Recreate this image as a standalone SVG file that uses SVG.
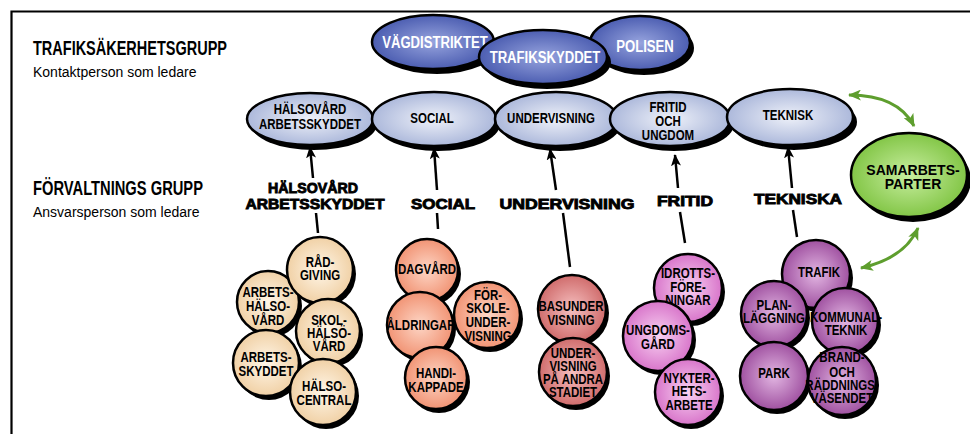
<svg xmlns="http://www.w3.org/2000/svg" width="970" height="434" viewBox="0 0 970 434">
<style>
.sh{fill:#000}
.ol{stroke:#000;stroke-width:2.5}
.tw{font-family:"Liberation Sans",sans-serif;font-weight:bold;font-size:16px;fill:#fff;text-anchor:middle}
.tb{font-family:"Liberation Sans",sans-serif;font-weight:bold;font-size:14px;fill:#000;text-anchor:middle}
.tg{font-family:"Liberation Sans",sans-serif;font-weight:bold;font-size:14px;fill:#000;text-anchor:middle}
.lab{font-family:"Liberation Sans",sans-serif;font-weight:bold;font-size:15px;fill:#000;stroke:#000;stroke-width:0.9;text-anchor:middle}
.h1{font-family:"Liberation Sans",sans-serif;font-weight:bold;font-size:20px;fill:#000}
.h2{font-family:"Liberation Sans",sans-serif;font-size:14px;fill:#000}
.conn{stroke:#000;stroke-width:2.5;fill:none}
.grn{stroke:#5e9e2e;stroke-width:3;fill:none}
</style>
<defs>
<radialGradient id="gBlue" cx="50%" cy="50%" r="55%"><stop offset="0" stop-color="#97a4de"/><stop offset="1" stop-color="#4557ad"/></radialGradient>
<radialGradient id="gLb" cx="50%" cy="50%" r="55%"><stop offset="0" stop-color="#eef1f9"/><stop offset="1" stop-color="#a6b3d8"/></radialGradient>
<radialGradient id="gGr" cx="50%" cy="50%" r="55%"><stop offset="0" stop-color="#c8eea0"/><stop offset="1" stop-color="#7cc23e"/></radialGradient>
<radialGradient id="gBe" cx="50%" cy="50%" r="55%"><stop offset="0" stop-color="#fff6e8"/><stop offset="1" stop-color="#efcd9f"/></radialGradient>
<radialGradient id="gSa" cx="50%" cy="50%" r="55%"><stop offset="0" stop-color="#fdd6c6"/><stop offset="1" stop-color="#f08d6c"/></radialGradient>
<radialGradient id="gRo" cx="50%" cy="50%" r="55%"><stop offset="0" stop-color="#f6c0c0"/><stop offset="1" stop-color="#cc6464"/></radialGradient>
<radialGradient id="gPi" cx="50%" cy="50%" r="55%"><stop offset="0" stop-color="#f8d2f2"/><stop offset="1" stop-color="#d56cc6"/></radialGradient>
<radialGradient id="gPu" cx="50%" cy="50%" r="55%"><stop offset="0" stop-color="#e2b6e2"/><stop offset="1" stop-color="#99479a"/></radialGradient>
<marker id="ah" viewBox="0 0 12 10" refX="11" refY="5" markerWidth="12" markerHeight="10" markerUnits="userSpaceOnUse" orient="auto"><path d="M0,0 L12,5 L0,10 L3,5 z" fill="#000"/></marker>
<marker id="ag" viewBox="0 0 12 10" refX="11" refY="5" markerWidth="13" markerHeight="11" markerUnits="userSpaceOnUse" orient="auto-start-reverse"><path d="M0,0 L12,5 L0,10 L3,5 z" fill="#5e9e2e"/></marker>
</defs>
<rect width="970" height="434" fill="#fff"/>
<g id="frame"><path d="M11.5,434 L11.5,11.5 L970,11.5" fill="none" stroke="#000" stroke-width="2.2"/></g>
<g id="headings">
<text class="h1" x="33" y="55" textLength="194" lengthAdjust="spacingAndGlyphs">TRAFIKSÄKERHETSGRUPP</text>
<text class="h2" x="33" y="77">Kontaktperson som ledare</text>
<text class="h1" x="33" y="195" textLength="170" lengthAdjust="spacingAndGlyphs">FÖRVALTNINGS GRUPP</text>
<text class="h2" x="33" y="217">Ansvarsperson som ledare</text>
</g>
<g id="n-vagdistriktet"><ellipse class="sh" cx="437" cy="47" rx="61" ry="27"/><ellipse class="ol" cx="433" cy="42" rx="61" ry="27" fill="url(#gBlue)"/><text class="tw" transform="translate(435 0) scale(.82 1)" x="0" y="48">VÄGDISTRIKTET</text></g>
<g id="n-polisen"><ellipse class="sh" cx="644" cy="48" rx="50" ry="27"/><ellipse class="ol" cx="640" cy="43" rx="50" ry="27" fill="url(#gBlue)"/><text class="tw" transform="translate(645 0) scale(.82 1)" x="0" y="52">POLISEN</text></g>
<g id="n-trafikskyddet"><ellipse class="sh" cx="547" cy="62" rx="64" ry="27"/><ellipse class="ol" cx="543" cy="57" rx="64" ry="27" fill="url(#gBlue)"/><text class="tw" transform="translate(545 0) scale(.82 1)" x="0" y="63">TRAFIKSKYDDET</text></g>
<g id="n-halsovard"><ellipse class="sh" cx="314" cy="124" rx="63" ry="26"/><ellipse class="ol" cx="310" cy="119" rx="63" ry="26" fill="url(#gLb)"/><text class="tb" transform="translate(310 0) scale(.82 1)"><tspan x="0" y="114">HÄLSOVÅRD</tspan><tspan x="0" y="129">ARBETSSKYDDET</tspan></text></g>
<g id="n-social"><ellipse class="sh" cx="438" cy="124" rx="62" ry="27"/><ellipse class="ol" cx="434" cy="119" rx="62" ry="27" fill="url(#gLb)"/><text class="tb" transform="translate(432 0) scale(.82 1)" x="0" y="123">SOCIAL</text></g>
<g id="n-undervisning"><ellipse class="sh" cx="560" cy="124" rx="61" ry="27"/><ellipse class="ol" cx="556" cy="119" rx="61" ry="27" fill="url(#gLb)"/><text class="tb" transform="translate(551 0) scale(.82 1)" x="0" y="123">UNDERVISNING</text></g>
<g id="n-fritid"><ellipse class="sh" cx="674" cy="124" rx="60" ry="27"/><ellipse class="ol" cx="670" cy="119" rx="60" ry="27" fill="url(#gLb)"/><text class="tb" transform="translate(668 0) scale(.82 1)"><tspan x="0" y="112">FRITID</tspan><tspan x="0" y="126">OCH</tspan><tspan x="0" y="140">UNGDOM</tspan></text></g>
<g id="n-teknisk"><ellipse class="sh" cx="794" cy="122" rx="63" ry="28"/><ellipse class="ol" cx="790" cy="117" rx="63" ry="28" fill="url(#gLb)"/><text class="tb" transform="translate(788 0) scale(.82 1)" x="0" y="120">TEKNISK</text></g>
<g id="n-samarbetsparter"><ellipse class="sh" cx="913" cy="180" rx="58" ry="42"/><ellipse class="ol" cx="909" cy="175" rx="58" ry="42" fill="url(#gGr)"/><text class="tg"><tspan x="913" y="175">SAMARBETS-</tspan><tspan x="913" y="189">PARTER</tspan></text></g>
<g id="labels">
<text class="lab" x="313" y="193" textLength="90" lengthAdjust="spacingAndGlyphs">HÄLSOVÅRD</text>
<text class="lab" x="315" y="209" textLength="139" lengthAdjust="spacingAndGlyphs">ARBETSSKYDDET</text>
<text class="lab" x="443" y="209" textLength="64" lengthAdjust="spacingAndGlyphs">SOCIAL</text>
<text class="lab" x="567" y="209" textLength="135" lengthAdjust="spacingAndGlyphs">UNDERVISNING</text>
<text class="lab" x="685" y="206" textLength="56" lengthAdjust="spacingAndGlyphs">FRITID</text>
<text class="lab" x="798" y="204" textLength="88" lengthAdjust="spacingAndGlyphs">TEKNISKA</text>
</g>
<g id="connectors">
<path class="conn" d="M313,178 L310,147" marker-end="url(#ah)"/>
<path class="conn" d="M437,190 L434,148" marker-end="url(#ah)"/>
<path class="conn" d="M556,190 L550,149" marker-end="url(#ah)"/>
<path class="conn" d="M678,188 L675,155" marker-end="url(#ah)"/>
<path class="conn" d="M792,188 L788,147" marker-end="url(#ah)"/>
<path class="conn" d="M316,213 L318,233"/>
<path class="conn" d="M437,213 L438,229"/>
<path class="conn" d="M563,213 L570,267"/>
<path class="conn" d="M680,212 L685,243"/>
<path class="conn" d="M793,210 L797,237"/>
<path class="grn" d="M849,95 Q898,95 914,126" marker-start="url(#ag)" marker-end="url(#ag)"/>
<path class="grn" d="M861,268 Q905,258 918,228" marker-start="url(#ag)" marker-end="url(#ag)"/>
</g>
<g id="n-arbetshalsovard"><circle class="sh" cx="271" cy="306" r="31"/><circle class="ol" cx="268" cy="302" r="31" fill="url(#gBe)"/><text class="tb" transform="translate(268 0) scale(.82 1)"><tspan x="0" y="297">ARBETS-</tspan><tspan x="0" y="311">HÄLSO-</tspan><tspan x="0" y="325">VÅRD</tspan></text></g>
<g id="n-radgiving"><circle class="sh" cx="323" cy="274" r="33"/><circle class="ol" cx="320" cy="270" r="33" fill="url(#gBe)"/><text class="tb" transform="translate(320 0) scale(.82 1)"><tspan x="0" y="267">RÅD-</tspan><tspan x="0" y="280">GIVING</tspan></text></g>
<g id="n-skolhalsovard"><circle class="sh" cx="331" cy="335" r="32"/><circle class="ol" cx="328" cy="331" r="32" fill="url(#gBe)"/><text class="tb" transform="translate(329 0) scale(.82 1)"><tspan x="0" y="325">SKOL-</tspan><tspan x="0" y="338">HÄLSÖ-</tspan><tspan x="0" y="351">VÅRD</tspan></text></g>
<g id="n-arbetsskyddet"><circle class="sh" cx="269" cy="367" r="33"/><circle class="ol" cx="266" cy="363" r="33" fill="url(#gBe)"/><text class="tb" transform="translate(266 0) scale(.82 1)"><tspan x="0" y="362">ARBETS-</tspan><tspan x="0" y="376">SKYDDET</tspan></text></g>
<g id="n-halsocentral"><circle class="sh" cx="326" cy="396" r="33"/><circle class="ol" cx="323" cy="392" r="33" fill="url(#gBe)"/><text class="tb" transform="translate(324 0) scale(.82 1)"><tspan x="0" y="391">HÄLSO-</tspan><tspan x="0" y="405">CENTRAL</tspan></text></g>
<g id="n-dagvard"><circle class="sh" cx="430" cy="274" r="31"/><circle class="ol" cx="427" cy="270" r="31" fill="url(#gSa)"/><text class="tb" transform="translate(427 0) scale(.82 1)" x="0" y="274">DAGVÅRD</text></g>
<g id="n-forskole"><circle class="sh" cx="490" cy="319" r="33"/><circle class="ol" cx="487" cy="315" r="33" fill="url(#gSa)"/><text class="tb" transform="translate(488 0) scale(.82 1)"><tspan x="0" y="300">FÖR-</tspan><tspan x="0" y="313">SKOLE-</tspan><tspan x="0" y="327">UNDER-</tspan><tspan x="0" y="341">VISNING</tspan></text></g>
<g id="n-aldringar"><circle class="sh" cx="423" cy="329" r="33"/><circle class="ol" cx="420" cy="325" r="33" fill="url(#gSa)"/><text class="tb" transform="translate(421 0) scale(.82 1)" x="0" y="330">ÅLDRINGAR</text></g>
<g id="n-handikappade"><circle class="sh" cx="439" cy="382" r="31"/><circle class="ol" cx="436" cy="378" r="31" fill="url(#gSa)"/><text class="tb" transform="translate(436 0) scale(.82 1)"><tspan x="0" y="378">HANDI-</tspan><tspan x="0" y="392">KAPPADE</tspan></text></g>
<g id="n-basundervisning"><circle class="sh" cx="575" cy="313" r="34"/><circle class="ol" cx="572" cy="309" r="34" fill="url(#gRo)"/><text class="tb" transform="translate(571 0) scale(.82 1)"><tspan x="0" y="311">BASUNDER</tspan><tspan x="0" y="325">VISNING</tspan></text></g>
<g id="n-undervisningandra"><circle class="sh" cx="576" cy="376" r="34"/><circle class="ol" cx="573" cy="372" r="34" fill="url(#gRo)"/><text class="tb" transform="translate(573 0) scale(.82 1)"><tspan x="0" y="358">UNDER-</tspan><tspan x="0" y="371">VISNING</tspan><tspan x="0" y="384">PÅ ANDRA</tspan><tspan x="0" y="397">STADIET</tspan></text></g>
<g id="n-idrottsforeningar"><circle class="sh" cx="691" cy="292" r="34"/><circle class="ol" cx="688" cy="288" r="34" fill="url(#gPi)"/><text class="tb" transform="translate(688 0) scale(.82 1)"><tspan x="0" y="278">IDROTTS-</tspan><tspan x="0" y="292">FÖRE-</tspan><tspan x="0" y="305">NINGAR</tspan></text></g>
<g id="n-ungdomsgard"><circle class="sh" cx="661" cy="340" r="35"/><circle class="ol" cx="658" cy="336" r="35" fill="url(#gPi)"/><text class="tb" transform="translate(658 0) scale(.82 1)"><tspan x="0" y="335">UNGDOMS-</tspan><tspan x="0" y="349">GÅRD</tspan></text></g>
<g id="n-nykterhetsarbete"><circle class="sh" cx="691" cy="396" r="33"/><circle class="ol" cx="688" cy="392" r="33" fill="url(#gPi)"/><text class="tb" transform="translate(689 0) scale(.82 1)"><tspan x="0" y="383">NYKTER-</tspan><tspan x="0" y="396">HETS-</tspan><tspan x="0" y="410">ARBETE</tspan></text></g>
<g id="n-trafik"><circle class="sh" cx="819" cy="278" r="34"/><circle class="ol" cx="816" cy="274" r="34" fill="url(#gPu)"/><text class="tb" transform="translate(819 0) scale(.82 1)" x="0" y="277">TRAFIK</text></g>
<g id="n-planlaggning"><circle class="sh" cx="777" cy="318" r="33"/><circle class="ol" cx="774" cy="314" r="33" fill="url(#gPu)"/><text class="tb" transform="translate(774 0) scale(.82 1)"><tspan x="0" y="310">PLAN-</tspan><tspan x="0" y="323">LÄGGNING</tspan></text></g>
<g id="n-kommunalteknik"><circle class="sh" cx="848" cy="325" r="33"/><circle class="ol" cx="845" cy="321" r="33" fill="url(#gPu)"/><text class="tb" transform="translate(846 0) scale(.82 1)"><tspan x="0" y="322">KOMMUNAL-</tspan><tspan x="0" y="335">TEKNIK</tspan></text></g>
<g id="n-park"><circle class="sh" cx="777" cy="380" r="34"/><circle class="ol" cx="774" cy="376" r="34" fill="url(#gPu)"/><text class="tb" transform="translate(774 0) scale(.82 1)" x="0" y="378">PARK</text></g>
<g id="n-brand"><circle class="sh" cx="845" cy="385" r="34"/><circle class="ol" cx="842" cy="381" r="34" fill="url(#gPu)"/><text class="tb" transform="translate(842 0) scale(.82 1)"><tspan x="0" y="362">BRAND-</tspan><tspan x="0" y="377">OCH</tspan><tspan x="0" y="390">RÄDDNINGS-</tspan><tspan x="0" y="403">VÄSENDET</tspan></text></g>
</svg>
